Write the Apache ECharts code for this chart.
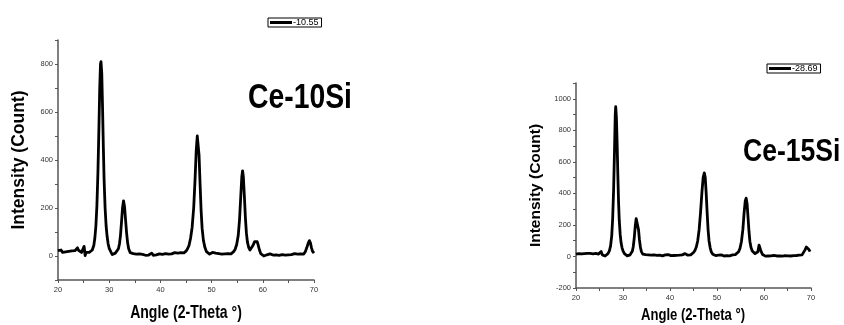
<!DOCTYPE html>
<html>
<head>
<meta charset="utf-8">
<script src="https://cdn.jsdelivr.net/npm/echarts@6/dist/echarts.min.js"></script>
<style>
  html, body { margin: 0; padding: 0; background: #fff; }
  #chart { width: 844px; height: 325px; }
</style>
</head>
<body>
<div id="chart"></div>
<script>
// XRD pattern, Ce-10Si sample: 2-theta (deg) and intensity (counts)
const angles10 = [
  20.0, 20.3, 20.6, 20.9, 21.2, 21.5, 21.8, 22.1, 22.4, 22.7, 23.0, 23.3, 23.6, 23.8, 24.0, 24.3, 24.6, 24.9,
  25.1, 25.3, 25.5, 25.8, 26.1, 26.4, 26.7, 27.0, 27.2, 27.4, 27.6, 27.8, 28.0, 28.15, 28.3, 28.4, 28.55, 28.7,
  28.85, 29.0, 29.2, 29.4, 29.6, 29.8, 30.0, 30.3, 30.6, 30.9, 31.2, 31.5, 31.8, 32.0, 32.2, 32.4, 32.6, 32.8,
  33.0, 33.2, 33.4, 33.6, 33.8, 34.1, 34.4, 34.7, 35.0, 35.3, 35.6, 35.9, 36.2, 36.5, 36.8, 37.1, 37.4, 37.7,
  38.0, 38.3, 38.6, 38.9, 39.2, 39.5, 39.8, 40.1, 40.4, 40.7, 41.0, 41.3, 41.6, 41.9, 42.2, 42.5, 42.8, 43.1,
  43.4, 43.7, 44.0, 44.3, 44.6, 45.0, 45.3, 45.6, 45.9, 46.2, 46.5, 46.75, 47.0, 47.2, 47.35, 47.55, 47.75, 47.95,
  48.15, 48.4, 48.7, 49.0, 49.3, 49.6, 49.9, 50.2, 50.5, 50.8, 51.1, 51.4, 51.7, 52.0, 52.3, 52.6, 52.9, 53.2,
  53.5, 53.8, 54.1, 54.3, 54.6, 54.9, 55.2, 55.45, 55.7, 55.9, 56.05, 56.2, 56.4, 56.6, 56.8, 57.0, 57.25, 57.5,
  57.8, 58.1, 58.4, 58.7, 58.9, 59.1, 59.35, 59.6, 59.9, 60.2, 60.5, 60.8, 61.1, 61.4, 61.7, 62.0, 62.3, 62.6,
  62.9, 63.2, 63.5, 63.8, 64.1, 64.4, 64.7, 65.0, 65.3, 65.6, 65.9, 66.2, 66.5, 66.8, 67.1, 67.4, 67.7, 68.0,
  68.3, 68.6, 68.9, 69.1, 69.3, 69.5, 69.7, 69.85, 70.0
];
const counts10 = [
  22, 18, 25, 15, 20, 17, 24, 19, 23, 21, 28, 22, 30, 34, 24, 18, 15, 10,
  40, 2, 15, 12, 15, 15, 25, 45, 75, 125, 210, 350, 540, 700, 800, 810, 760, 620,
  460, 320, 200, 125, 80, 50, 32, 18, 6, 4, 12, 18, 30, 50, 85, 140, 200, 230,
  205, 150, 95, 55, 30, 14, 6, 10, 3, 8, 4, 9, 2, 7, 5, 3, 10, 4,
  6, 12, 3, 8, 5, 2, 9, 4, 7, 5, 10, 6, 8, 11, 9, 12, 14, 16,
  12, 10, 14, 11, 13, 20, 30, 45, 75, 120, 200, 310, 440, 500, 495, 420, 300, 190,
  115, 65, 35, 18, 10, 8, 12, 15, 10, 12, 6, 10, 4, 8, 5, 9, 7, 10,
  12, 9, 14, 18, 28, 48, 85, 150, 250, 330, 355, 330, 250, 160, 95, 58, 35, 25,
  30, 45, 60, 66, 60, 45, 25, 10, 2, 0, 8, 5, 3, 9, 6, 4, 10, 5,
  8, 3, 7, 6, 10, 4, 8, 5, 9, 6, 3, 10, 5, 8, 4, 9, 6, 8,
  18, 35, 55, 64, 55, 35, 20, 14, 12
];

// XRD pattern, Ce-15Si sample
const angles15 = [
  20.0, 20.3, 20.6, 20.9, 21.2, 21.5, 21.8, 22.1, 22.4, 22.7, 23.0, 23.3, 23.6, 23.9, 24.2, 24.5, 24.8, 25.1,
  25.35, 25.6, 25.9, 26.2, 26.5, 26.8, 27.1, 27.35, 27.6, 27.8, 28.0, 28.2, 28.35, 28.45, 28.6, 28.75, 28.9, 29.05,
  29.2, 29.4, 29.6, 29.8, 30.0, 30.3, 30.6, 30.9, 31.2, 31.5, 31.8, 32.0, 32.2, 32.4, 32.6, 32.8, 32.95, 33.1,
  33.3, 33.5, 33.7, 33.9, 34.2, 34.5, 34.8, 35.1, 35.4, 35.7, 36.0, 36.3, 36.6, 36.9, 37.2, 37.5, 37.8, 38.1,
  38.4, 38.7, 39.0, 39.3, 39.6, 39.9, 40.2, 40.5, 40.8, 41.1, 41.4, 41.7, 42.0, 42.3, 42.6, 42.9, 43.2, 43.5,
  43.8, 44.1, 44.4, 44.7, 45.0, 45.3, 45.6, 45.9, 46.2, 46.5, 46.8, 47.05, 47.3, 47.5, 47.7, 47.9, 48.1, 48.3,
  48.55, 48.8, 49.1, 49.4, 49.7, 50.0, 50.3, 50.6, 50.9, 51.2, 51.5, 51.8, 52.1, 52.4, 52.7, 53.0, 53.3, 53.6,
  53.9, 54.1, 54.3, 54.6, 54.9, 55.2, 55.5, 55.75, 56.0, 56.2, 56.4, 56.6, 56.8, 57.0, 57.25, 57.5, 57.8, 58.1,
  58.4, 58.7, 58.95, 59.15, 59.4, 59.7, 60.0, 60.3, 60.6, 60.9, 61.2, 61.5, 61.8, 62.1, 62.4, 62.7, 63.0, 63.3,
  63.6, 63.9, 64.2, 64.5, 64.8, 65.1, 65.4, 65.7, 66.0, 66.3, 66.6, 66.9, 67.2, 67.5, 67.8, 68.1, 68.4, 68.7,
  69.0, 69.2, 69.4, 69.6, 69.8, 70.0
];
const counts15 = [
  15, 12, 18, 14, 16, 10, 18, 15, 20, 14, 19, 22, 17, 24, 20, 18, 15, 12,
  32, 10, 5, 3, 8, 18, 35, 65, 130, 240, 420, 680, 900, 950, 880, 720, 520, 350,
  230, 140, 85, 55, 35, 18, 8, 4, 6, 10, 20, 35, 65, 120, 190, 240, 250, 230,
  170, 105, 60, 32, 15, 8, 12, 6, 10, 4, 8, 5, 10, 3, 7, 2, 9, 5,
  4, 8, 10, 6, 12, 8, 5, 9, 6, 10, 7, 4, 8, 6, 10, 12, 18, 14,
  8, 6, 10, 16, 25, 38, 60, 100, 170, 280, 410, 500, 530, 500, 400, 280, 170, 100,
  55, 28, 14, 8, 6, 4, 9, 5, 10, 6, 3, 8, 5, 9, 4, 7, 10, 8,
  12, 15, 18, 30, 52, 95, 170, 270, 350, 370, 335, 250, 160, 95, 55, 35, 25, 18,
  14, 30, 72, 60, 30, 12, 4, 2, 6, 3, 8, 4, 2, 7, 5, 3, 8, 4,
  6, 2, 7, 5, 9, 4, 6, 3, 8, 5, 10, 6, 4, 8, 5, 10, 20, 40,
  60, 66, 58, 42, 30, 38
];

const seriesNames = ['-10.55', '-28.69'];
const sampleLabels = ['Ce-10Si', 'Ce-15Si'];
const axisTitleX = 'Angle (2-Theta \u00B0)';
const axisTitleY = 'Intensity (Count)';

const SANS = "'Liberation Sans', Arial, sans-serif";

const pairs = (xs, ys) => xs.map((x, i) => [x, ys[i]]);

const axisLineStyle = { lineStyle: { color: '#555', width: 1.5 } };
const tickStyle = { show: true, inside: false, length: 3, lineStyle: { color: '#555', width: 1 } };

function xAxisFor(gridIndex) {
  return {
    gridIndex, type: 'value', min: 20, max: 70, interval: 5,
    axisLine: Object.assign({ onZero: false }, axisLineStyle),
    axisTick: tickStyle,
    axisLabel: { interval: 1, color: '#333', fontSize: 7.5, fontFamily: SANS, margin: 6,
                 formatter: v => (v % 10 === 0 ? String(v) : '') },
    splitLine: { show: false }
  };
}

function yAxisFor(gridIndex, min, max, nameGap, nameSize) {
  return {
    gridIndex, type: 'value', min, max, interval: 100,
    axisLine: Object.assign({ onZero: false }, axisLineStyle),
    axisTick: tickStyle,
    axisLabel: { color: '#333', fontSize: 7.5, fontFamily: SANS, margin: 5,
                 formatter: v => (v % 200 === 0 ? String(v) : '') },
    splitLine: { show: false },
    name: axisTitleY, nameLocation: 'middle', nameGap,
    nameTextStyle: { color: '#000', fontSize: nameSize, fontWeight: 'bold', fontFamily: SANS }
  };
}

// condensed bold captions (x-axis titles and sample names)
function narrowText(text, x, y, size, scaleX, align) {
  return {
    type: 'text', x, y, scaleX, silent: true,
    style: { text, fill: '#000', font: 'bold ' + size + 'px ' + SANS,
             textAlign: align, textVerticalAlign: 'middle' }
  };
}

const chart = echarts.init(document.getElementById('chart'), null, { renderer: 'canvas' });
chart.setOption({
  animation: false,
  backgroundColor: '#fff',
  grid: [
    { left: 58, right: 530, top: 40, bottom: 45 },
    { left: 576, right: 33, top: 83, bottom: 37 }
  ],
  xAxis: [xAxisFor(0), xAxisFor(1)],
  yAxis: [yAxisFor(0, -100, 900, 30, 17.5), yAxisFor(1, -200, 1100, 32, 15.5)],
  graphic: [
    narrowText(axisTitleX, 186, 313, 18, 0.78, 'center'),
    narrowText(axisTitleX, 693, 315, 17, 0.77, 'center'),
    narrowText(sampleLabels[0], 248, 98, 35, 0.81, 'left'),
    narrowText(sampleLabels[1], 743, 152, 32, 0.83, 'left')
  ],
  legend: [
    { data: [seriesNames[0]], left: 268, top: 18, orient: 'horizontal',
      borderColor: '#000', borderWidth: 1, padding: [0, 3, 0, 2], itemGap: 0,
      itemWidth: 22, itemHeight: 3, icon: 'rect', itemStyle: { color: '#000' },
      textStyle: { fontSize: 9, color: '#000', fontFamily: SANS, padding: [0, 0, 0, -4] } },
    { data: [seriesNames[1]], left: 767, top: 64, orient: 'horizontal',
      borderColor: '#000', borderWidth: 1, padding: [0, 3, 0, 2], itemGap: 0,
      itemWidth: 22, itemHeight: 3, icon: 'rect', itemStyle: { color: '#000' },
      textStyle: { fontSize: 9, color: '#000', fontFamily: SANS, padding: [0, 0, 0, -4] } }
  ],
  series: [
    { name: seriesNames[0], type: 'line', xAxisIndex: 0, yAxisIndex: 0,
      data: pairs(angles10, counts10), showSymbol: false, smooth: false,
      lineStyle: { color: '#000', width: 2.8, join: 'round' }, itemStyle: { color: '#000' } },
    { name: seriesNames[1], type: 'line', xAxisIndex: 1, yAxisIndex: 1,
      data: pairs(angles15, counts15), showSymbol: false, smooth: false,
      lineStyle: { color: '#000', width: 2.8, join: 'round' }, itemStyle: { color: '#000' } }
  ]
});
</script>
</body>
</html>
